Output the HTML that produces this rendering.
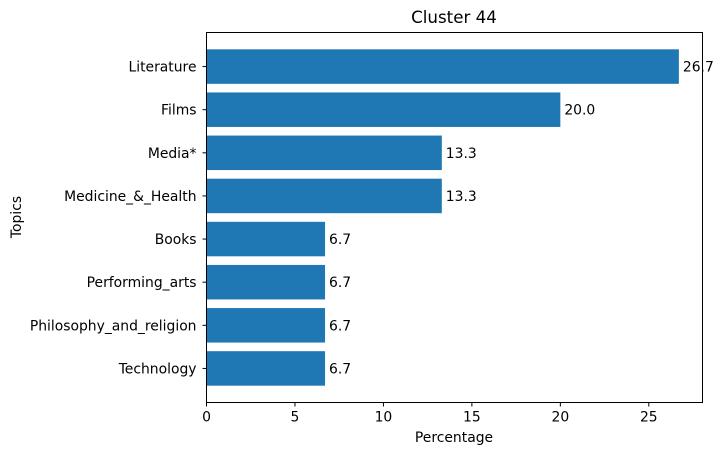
<!DOCTYPE html>
<html><head><meta charset="utf-8"><style>
body{margin:0;background:#fff;}
text{font-family:"DejaVu Sans","Liberation Sans",sans-serif;font-size:13.9px;fill:#000;}
</style></head><body>
<svg id="chart" width="723" height="455" xmlns="http://www.w3.org/2000/svg">
<text x="454" y="23" text-anchor="middle" style="font-size:16.7px">Cluster 44</text>
<text x="454" y="442" text-anchor="middle">Percentage</text>
<text transform="translate(21,217) rotate(-90)" text-anchor="middle">Topics</text>
<g id="plot"></g>
<rect x="206.5" y="32.5" width="496" height="370" fill="none" stroke="#000" stroke-width="1"/>
</svg>
<script>
const categories = ["Literature","Films","Media*","Medicine_&_Health","Books","Performing_arts","Philosophy_and_religion","Technology"];
const values = [26.7,20.0,13.3,13.3,6.7,6.7,6.7,6.7];
const valueLabels = ["26.7","20.0","13.3","13.3","6.7","6.7","6.7","6.7"];
const xTicks = [0,5,10,15,20,25];

const L=206.5,R=702.5,T=32.5,B=402.5;
const n=categories.length;
const xmax=Math.max(...values)*1.05;
const xs=v=>L+v/xmax*(R-L);
const ymin=-0.4-0.39, ymax=(n-1)+0.4+0.39;
const ys=i=>T+(i-ymin)/(ymax-ymin)*(B-T);
const g=document.getElementById('plot');
const NS='http://www.w3.org/2000/svg';
function mk(t,a){const e=document.createElementNS(NS,t);for(const k in a)e.setAttribute(k,a[k]);g.appendChild(e);return e;}
const bh=0.8*(B-T)/(ymax-ymin);
categories.forEach((c,i)=>{
  const cy=ys(i);
  const r=mk('rect',{x:xs(0),y:cy-bh/2,width:xs(values[i])-xs(0),height:bh,fill:'#1f77b4'});
  
  
  const vl=mk('text',{x:xs(values[i])+4,y:cy+5});
  vl.textContent=valueLabels[i];
  
  
  mk('line',{x1:L-4,x2:L,y1:cy,y2:cy,stroke:'#000'});
  const tl=mk('text',{x:L-10,y:cy+5,'text-anchor':'end'});
  tl.textContent=c;
  
  
});
xTicks.forEach(v=>{
  const x=xs(v);
  mk('line',{x1:x,x2:x,y1:B,y2:B+4,stroke:'#000'});
  const t=mk('text',{x:x,y:B+19,'text-anchor':'middle'});
  t.textContent=v;
  
  
});
</script>
</body></html>
